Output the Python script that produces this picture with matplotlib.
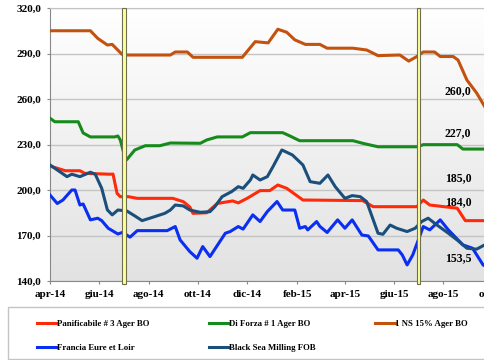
import numpy as np
import matplotlib.pyplot as plt
import matplotlib.dates as mdates
import matplotlib.transforms as mtransforms
from matplotlib.patches import Rectangle
from matplotlib.colors import LinearSegmentedColormap

plt.rcParams['font.family'] = ['Liberation Serif', 'DejaVu Serif']
plt.rcParams['font.weight'] = 'bold'


def days(lst):
    return np.array(lst, dtype='datetime64[D]')


# 1 NS 15% Ager BO
ns_dates = days(['2014-04-01', '2014-05-21', '2014-05-30', '2014-06-11', '2014-06-17', '2014-06-29',
                 '2014-07-02', '2014-08-28', '2014-09-03', '2014-09-18', '2014-09-25', '2014-11-25',
                 '2014-12-11', '2014-12-27', '2015-01-08', '2015-01-19', '2015-01-29', '2015-02-11',
                 '2015-03-01', '2015-03-10', '2015-04-11', '2015-04-28', '2015-05-12', '2015-06-08',
                 '2015-06-19', '2015-06-29', '2015-07-07', '2015-07-21', '2015-07-28', '2015-08-13',
                 '2015-08-19', '2015-08-30', '2015-09-11', '2015-09-21', '2015-09-28'])
ns_vals = [305, 305, 300, 295.6, 296, 289.5,
           289, 289, 291, 291, 287.5, 287.5,
           297.8, 297, 306, 304, 299, 296,
           296, 293.5, 293.5, 292.3, 288.6, 289,
           285, 288, 291, 291, 288, 288,
           285.7, 272.5, 264, 255, 251]

# Di Forza # 1 Ager BO
forza_dates = days(['2014-04-01', '2014-04-07', '2014-05-06', '2014-05-12', '2014-05-21', '2014-06-20',
                    '2014-06-24', '2014-06-27', '2014-07-02', '2014-07-05', '2014-07-15', '2014-07-28',
                    '2014-08-15', '2014-08-28', '2014-10-04', '2014-10-12', '2014-10-25', '2014-11-25',
                    '2014-12-05', '2015-01-14', '2015-01-23', '2015-02-04', '2015-04-11', '2015-04-23',
                    '2015-05-12', '2015-06-30', '2015-07-07', '2015-08-18', '2015-08-25', '2015-09-28'])
forza_vals = [247.3, 245, 245, 237.6, 235, 235,
              235.6, 233, 223, 220, 226.4, 229.2,
              229.2, 231, 230.8, 233, 235, 235,
              237.8, 237.8, 235.6, 232.5, 232.5, 230.8,
              228.5, 228.5, 229.9, 229.9, 227, 227]

# Panificabile # 3 Ager BO
pan_dates = days(['2014-04-01', '2014-04-20', '2014-05-08', '2014-05-14', '2014-06-14', '2014-06-18',
                  '2014-06-23', '2014-06-27', '2014-07-07', '2014-07-18', '2014-08-31', '2014-09-13',
                  '2014-09-21', '2014-09-25', '2014-10-12', '2014-10-25', '2014-11-13', '2014-11-20',
                  '2014-12-01', '2014-12-17', '2014-12-29', '2015-01-08', '2015-01-19', '2015-02-08',
                  '2015-04-23', '2015-05-06', '2015-06-29', '2015-07-07', '2015-07-15', '2015-08-18',
                  '2015-08-28', '2015-09-28'])
pan_vals = [215.8, 212.7, 212.7, 211, 210.4, 210.5,
            197.8, 195.6, 195.6, 194.5, 194.5, 192.3,
            188.8, 184.6, 185, 191.1, 192.8, 191.5,
            194.5, 199.6, 199.6, 203.3, 201.1, 193.4,
            193, 189, 189, 193.4, 190.1, 188,
            179.8, 179.8]

# Francia Eure et Loir
fr_dates = days(['2014-04-01', '2014-04-10', '2014-04-17', '2014-04-28', '2014-05-02', '2014-05-08',
                 '2014-05-12', '2014-05-21', '2014-05-30', '2014-06-04', '2014-06-12', '2014-06-24',
                 '2014-06-30', '2014-07-09', '2014-07-18', '2014-08-24', '2014-09-03', '2014-09-09',
                 '2014-09-21', '2014-09-30', '2014-10-07', '2014-10-16', '2014-11-04', '2014-11-10',
                 '2014-11-20', '2014-11-26', '2014-12-08', '2014-12-17', '2014-12-26', '2015-01-07',
                 '2015-01-14', '2015-01-29', '2015-02-04', '2015-02-11', '2015-02-14', '2015-02-25',
                 '2015-03-01', '2015-03-10', '2015-03-23', '2015-04-01', '2015-04-10', '2015-04-22',
                 '2015-04-30', '2015-05-12', '2015-06-06', '2015-06-11', '2015-06-17', '2015-06-24',
                 '2015-07-07', '2015-07-15', '2015-07-28', '2015-08-07', '2015-08-15', '2015-08-25',
                 '2015-09-06', '2015-09-19', '2015-09-28'])
fr_vals = [196.7, 191.1, 193.4, 200, 200, 190.1,
           190.8, 180.3, 181.4, 179.8, 174.8, 171,
           172.1, 168.9, 173.2, 173.2, 175.9, 167.1,
           159.4, 155, 162.7, 156.1, 171.5, 172.6,
           175.9, 174.2, 183.6, 179.2, 185.8, 192.4,
           186.8, 186.8, 174.8, 175.9, 173.7, 179.2,
           176, 172, 180.3, 174.8, 180.3, 170.3,
           169.7, 160.5, 160.5, 157.2, 150.6, 157.2,
           175.9, 173.7, 180.3, 173.7, 169.3, 163.8,
           161.6, 150.6, 148]

# Black Sea Milling FOB
bs_dates = days(['2014-04-01', '2014-04-22', '2014-04-28', '2014-05-08', '2014-05-21', '2014-05-27',
                 '2014-06-04', '2014-06-11', '2014-06-17', '2014-06-24', '2014-07-05', '2014-07-15',
                 '2014-07-24', '2014-08-06', '2014-08-21', '2014-08-28', '2014-09-03', '2014-09-13',
                 '2014-09-21', '2014-10-04', '2014-10-16', '2014-10-22', '2014-10-31', '2014-11-12',
                 '2014-11-20', '2014-11-26', '2014-12-05', '2014-12-08', '2014-12-17', '2014-12-26',
                 '2015-01-02', '2015-01-13', '2015-01-26', '2015-02-08', '2015-02-17', '2015-03-01',
                 '2015-03-11', '2015-03-20', '2015-04-01', '2015-04-10', '2015-04-20', '2015-04-28',
                 '2015-05-12', '2015-05-18', '2015-05-27', '2015-06-04', '2015-06-17', '2015-06-27',
                 '2015-07-05', '2015-07-13', '2015-07-24', '2015-08-07', '2015-08-18', '2015-08-30',
                 '2015-09-11', '2015-09-21', '2015-09-28'])
bs_vals = [216.5, 208.8, 210.4, 208.8, 211.7, 210.4,
           201.1, 186.9, 183.6, 186.8, 186.2, 182.9,
           179.8, 182, 184.6, 186.8, 190.1, 189.5,
           186.8, 185.3, 185.7, 189, 195.6, 199,
           202.2, 201.1, 206.6, 209.9, 206.6, 208.8,
           215.4, 226.4, 223.1, 216.5, 205.5, 204.4,
           209.9, 202.2, 194.5, 196.3, 195.6, 192.3,
           171.5, 170.8, 176.9, 174.8, 172.6, 174.8,
           179.2, 181.4, 176.9, 171.5, 167, 161.6,
           161, 163.8, 164]

series = [
    ('Panificabile # 3 Ager BO', pan_dates, pan_vals, '#ff2a0a'),
    ('Di Forza # 1 Ager BO', forza_dates, forza_vals, '#168a1a'),
    ('1 NS 15% Ager BO', ns_dates, ns_vals, '#c4520f'),
    ('Francia Eure et Loir', fr_dates, fr_vals, '#0a2ef2'),
    ('Black Sea Milling FOB', bs_dates, bs_vals, '#1a4f7c'),
]

tick_dates = days(['2014-04-01', '2014-06-01', '2014-08-01', '2014-10-01', '2014-12-01',
                   '2015-02-01', '2015-04-01', '2015-06-01', '2015-08-01', '2015-10-01'])
tick_labels = ['apr-14', 'giu-14', 'ago-14', 'ott-14', 'dic-14',
               'feb-15', 'apr-15', 'giu-15', 'ago-15', 'ott-15']
y_ticks = [140, 170, 200, 230, 260, 290, 320]

marker_dates = days(['2014-07-01', '2015-07-01'])

end_labels = ['260,0', '227,0', '185,0', '184,0', '153,5']
end_label_y = [265.3, 237.6, 208, 192, 155.2]
end_label_date = days(['2015-08-19'] * 5)

fig = plt.figure(figsize=(4.85, 3.6), dpi=100)
ax = fig.add_axes([50/485, 79/360, 467/485, 273/360])

# gradient background
bg = LinearSegmentedColormap.from_list('bg', ['#ffffff', '#e2e2e2'])
ax.imshow(np.linspace(0, 1, 256).reshape(-1, 1), cmap=bg, extent=[0, 1, 0, 1],
          transform=ax.transAxes, aspect='auto', zorder=-1)

handles = {}
for name, dts, vals, col in series:
    h, = ax.plot(dts, vals, color=col, lw=2.2, label=name, solid_joinstyle='round', zorder=3)
    handles[name] = h

ax.set_xlim(np.datetime64('2014-04-01'), np.datetime64('2015-10-31'))
ax.set_ylim(140, 320)
ax.set_yticks(y_ticks)
ax.set_yticklabels([f'{v},0' for v in y_ticks])
ax.set_xticks(tick_dates)
ax.set_xticklabels(tick_labels)
ax.tick_params(axis='both', labelsize=8, length=2.5, color='#888888', pad=4)
ax.yaxis.grid(True, color='#c4c4c4', lw=1)
ax.set_axisbelow(True)

ax.spines['right'].set_visible(False)
ax.spines['top'].set_color('#c4c4c4')
ax.spines['left'].set_color('#888888')
ax.spines['bottom'].set_color('#888888')

# yellow markers
trans = mtransforms.blended_transform_factory(ax.transData, ax.transAxes)
for md in marker_dates:
    x0 = mdates.date2num(md - np.timedelta64(2, 'D'))
    ax.add_patch(Rectangle((x0, -0.012), 4.5, 1.012, transform=trans, facecolor='#ffff99',
                           edgecolor='#6e6e50', lw=0.8, clip_on=False, zorder=5))

for lab, yv, dv in zip(end_labels, end_label_y, end_label_date):
    ax.text(dv, yv, lab, ha='center', va='center', fontsize=8.5, fontweight='bold', zorder=6)

# legend
order = ['Panificabile # 3 Ager BO', 'Francia Eure et Loir', 'Di Forza # 1 Ager BO',
         'Black Sea Milling FOB', '1 NS 15% Ager BO']
fig.legend([handles[k] for k in order], order, ncol=3, loc='upper left',
           bbox_to_anchor=(37/485, 1 - 320/360), frameon=False, fontsize=6.3,
           handlelength=2.2, handletextpad=0.1, columnspacing=6.8, labelspacing=1.8,
           borderpad=0, borderaxespad=0)
fig.add_artist(Rectangle((8/485, 1 - 359/360), 1.0, 52/360, transform=fig.transFigure,
                         fill=False, edgecolor='#c4c4c4', lw=1))

fig.savefig('out.png', dpi=100)
